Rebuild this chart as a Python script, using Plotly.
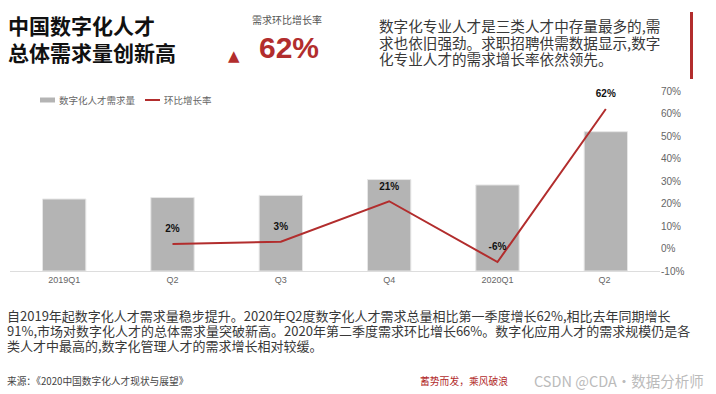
import plotly.graph_objects as go

categories = ["2019Q1", "Q2", "Q3", "Q4", "2020Q1", "Q2 "]
demand_index = [100, 102, 105, 127, 119.5, 193.5]
growth_rate = [None, 2, 3, 21, -6, 62]
growth_labels = ["", "2%", "3%", "21%", "-6%", "62%"]
tick_vals = [-10, 0, 10, 20, 30, 40, 50, 60, 70]
tick_text = [f"{v}%" for v in tick_vals]

W, H = 716, 394
L, R, T, B = 10, 56, 91, 123
PW, PH = W - L - R, H - T - B

def px(x):
    return (x - L) / PW

def py(y):
    return (H - B - y) / PH

CJK = "Noto Sans CJK SC, Liberation Sans, sans-serif"
NUM = "Liberation Sans, Noto Sans CJK SC, sans-serif"
RED = "#B22D2D"
BAR = "#B4B4B4"

fig = go.Figure()
fig.add_trace(go.Bar(
    x=categories, y=demand_index, name="数字化人才需求量",
    marker=dict(color=BAR, line=dict(color="#E6E6E6", width=1)),
    width=0.4, yaxis="y", hoverinfo="skip", showlegend=False,
))
fig.add_trace(go.Scatter(
    x=categories, y=growth_rate, name="环比增长率",
    mode="lines+markers+text", text=growth_labels, textposition="top center",
    textfont=dict(family=NUM, size=10, color="#111111", weight="bold"),
    marker=dict(size=13, color="rgba(0,0,0,0)"),
    line=dict(color=RED, width=2), yaxis="y2", cliponaxis=False, showlegend=False,
    hoverinfo="skip",
))

fig.update_layout(
    width=W, height=H,
    margin=dict(l=L, r=R, t=T, b=B, autoexpand=False),
    paper_bgcolor="white", plot_bgcolor="white",
    font=dict(family=CJK, color="#555555"),
    showlegend=False,
    xaxis=dict(type="category", showgrid=False, showline=True, linecolor="#DDDDDD",
               linewidth=1, ticks="", tickfont=dict(size=9, color="#666666", family=NUM)),
    yaxis=dict(range=[0, 250], visible=False, showgrid=False),
    yaxis2=dict(range=[-10, 70], overlaying="y", side="right", tickmode="array",
                tickvals=tick_vals, ticktext=tick_text,
                showgrid=False, zeroline=False, showline=False,
                tickfont=dict(size=10, color="#666666", family=NUM)),
)

right_lines = ["数字化专业人才是三类人才中存量最多的,需",
               "求也依旧强劲。求职招聘供需数据显示,数字",
               "化专业人才的需求增长率依然领先。"]
para_lines = ["自2019年起数字化人才需求量稳步提升。2020年Q2度数字化人才需求总量相比第一季度增长62%,相比去年同期增长",
              "91%,市场对数字化人才的总体需求量突破新高。2020年第二季度需求环比增长66%。数字化应用人才的需求规模仍是各",
              "类人才中最高的,数字化管理人才的需求增长相对较缓。"]

ann = [
    dict(x=px(6), y=py(25), text="<b>中国数字化人才</b>", xanchor="left", yanchor="middle",
         font=dict(size=21, color="#111111", family=CJK)),
    dict(x=px(6), y=py(52), text="<b>总体需求量创新高</b>", xanchor="left", yanchor="middle",
         font=dict(size=21, color="#111111", family=CJK)),
    dict(x=px(287), y=py(19), text="需求环比增长率", xanchor="center", yanchor="middle",
         font=dict(size=10, color="#555555", family=CJK)),
    dict(x=px(234), y=py(56), text="▲", xanchor="center", yanchor="middle",
         font=dict(size=15, color=RED, family="DejaVu Sans")),
    dict(x=px(289), y=py(48), text="<b>62%</b>", xanchor="center", yanchor="middle",
         font=dict(size=30, color=RED, family=NUM)),
    dict(x=px(5), y=py(381), text="来源：《2020中国数字化人才现状与展望》", xanchor="left", yanchor="middle",
         font=dict(size=9.7, color="#444444", family=CJK)),
    dict(x=px(510), y=py(381), text="蓄势而发，乘风破浪", xanchor="right", yanchor="middle",
         font=dict(size=9.8, color=RED, family=CJK)),
    dict(x=px(532), y=py(380), text="CSDN @CDA·数据分析师", xanchor="left", yanchor="middle",
         font=dict(size=14.5, color="#BBBBBB", family=CJK)),
    # custom legend texts
    dict(x=px(57), y=py(100), text="数字化人才需求量", xanchor="left", yanchor="middle",
         font=dict(size=9.5, color="#666666", family=CJK)),
    dict(x=px(162), y=py(100), text="环比增长率", xanchor="left", yanchor="middle",
         font=dict(size=9.5, color="#666666", family=CJK)),
]
for i, t in enumerate(right_lines):
    ann.append(dict(x=px(377), y=py(25.5 + 16.5 * i), text=t, xanchor="left", yanchor="middle",
                    font=dict(size=14.6, color="#383838", family=CJK)))
for i, t in enumerate(para_lines):
    ann.append(dict(x=px(5), y=py(315.5 + 15 * i), text=t, xanchor="left", yanchor="middle",
                    font=dict(size=13, color="#383838", family=CJK)))
for a in ann:
    a.update(xref="paper", yref="paper", showarrow=False)
fig.update_layout(annotations=ann)

fig.add_shape(type="rect", xref="paper", yref="paper",
              x0=px(690), x1=px(693), y0=py(12), y1=py(79),
              fillcolor=RED, line=dict(width=0))
# legend swatches
fig.add_shape(type="rect", xref="paper", yref="paper",
              x0=px(40), x1=px(55), y0=py(97.5), y1=py(102.5),
              fillcolor=BAR, line=dict(width=0))
fig.add_shape(type="line", xref="paper", yref="paper",
              x0=px(145), x1=px(160), y0=py(100), y1=py(100),
              line=dict(color=RED, width=2))

fig.write_html("out.html", config={"displayModeBar": False},
               post_script="document.body.style.margin='0px';document.body.style.padding='0px';")
